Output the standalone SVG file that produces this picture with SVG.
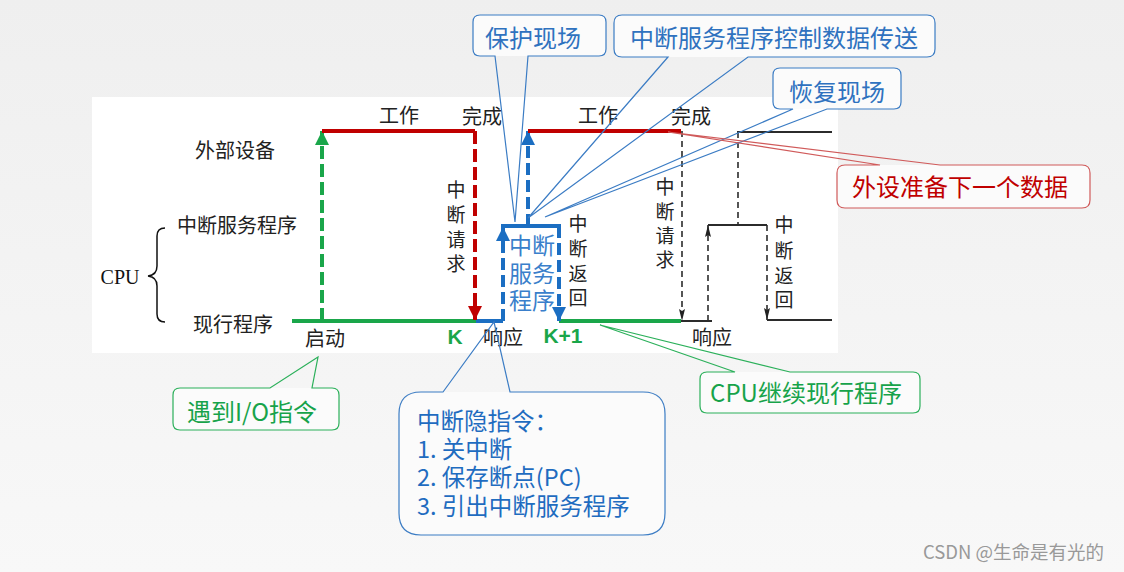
<svg xmlns="http://www.w3.org/2000/svg" width="1124" height="572" viewBox="0 0 1124 572">
<defs>
<linearGradient id="bg" x1="0" y1="0" x2="0" y2="1">
<stop offset="0" stop-color="#efefef"/><stop offset="1" stop-color="#f8f8f8"/>
</linearGradient>
<marker id="aG" markerUnits="userSpaceOnUse" markerWidth="14" markerHeight="14" refX="14" refY="7" orient="auto"><path d="M0,0 L14,7 L0,14 z" fill="#1aa64a"/></marker>
<marker id="aR" markerUnits="userSpaceOnUse" markerWidth="14" markerHeight="14" refX="14" refY="7" orient="auto"><path d="M0,0 L14,7 L0,14 z" fill="#c00000"/></marker>
<marker id="aB" markerUnits="userSpaceOnUse" markerWidth="14" markerHeight="14" refX="14" refY="7" orient="auto"><path d="M0,0 L14,7 L0,14 z" fill="#1b6ec2"/></marker>
<marker id="aK" markerUnits="userSpaceOnUse" markerWidth="12" markerHeight="6" refX="12" refY="3" orient="auto"><path d="M0,0 L12,3 L0,6 L2,3 z" fill="#222"/></marker>
</defs>
<style>
.lbl{font-family:"Noto Sans CJK SC","Noto Sans",sans-serif;font-size:20px;fill:#222}
.vl{font-family:"Noto Sans CJK SC","Noto Sans",sans-serif;font-size:19px;fill:#222;text-anchor:middle}
.ser{font-family:"Liberation Serif",serif;font-size:20px;fill:#111}
.kk{font-family:"Liberation Sans",Arial,sans-serif;font-weight:bold;font-size:21px;fill:#1aa64a}
.ct{font-family:"Noto Sans CJK SC","Noto Sans",sans-serif;font-size:24px;text-anchor:middle}
.gS{stroke:#1aa64a;stroke-width:4;fill:none}
.rS{stroke:#c00000;stroke-width:4;fill:none}
.bS{stroke:#1b6ec2;stroke-width:4;fill:none}
.kS{stroke:#2b2b2b;stroke-width:2;fill:none}
.dashG{stroke-dasharray:13 5}
.dashB{stroke-dasharray:12 5}
.dk{stroke:#2b2b2b;stroke-width:1.6;stroke-dasharray:6 4;fill:none}
.cb{stroke:#3b7cc4;stroke-width:1.2;fill:none}
.cg{stroke:#2bb05a;stroke-width:1.2;fill:none}
.cr{stroke:#d05a5a;stroke-width:1.2;fill:none}
.cf{fill:#fbfbfb;stroke:none}
</style>
<rect width="1124" height="572" fill="url(#bg)"/>
<rect x="92" y="97" width="746" height="256" fill="#ffffff"/>

<g id="connectors">
<line class="gS" x1="292" y1="321" x2="476" y2="321"/>
<line class="bS" x1="476" y1="321" x2="503" y2="321"/>
<line class="gS" x1="559" y1="321" x2="681" y2="321"/>
<line class="gS dashG" x1="322" y1="321" x2="322" y2="131" marker-end="url(#aG)"/>
<line class="rS" x1="322" y1="131" x2="475" y2="131"/>
<line class="rS dashG" x1="475" y1="131" x2="475" y2="320" marker-end="url(#aR)"/>
<line class="bS dashB" x1="503" y1="321" x2="503" y2="227" marker-end="url(#aB)"/>
<line class="bS" x1="501" y1="226" x2="561" y2="226"/>
<line class="bS dashB" x1="559" y1="226" x2="559" y2="321" marker-end="url(#aB)"/>
<line class="bS dashB" x1="528" y1="226" x2="528" y2="131" marker-end="url(#aB)"/>
<line class="rS" x1="528" y1="131" x2="681" y2="131"/>
<line class="dk" x1="682" y1="131" x2="682" y2="321" marker-end="url(#aK)"/>
<line class="kS" x1="681" y1="321" x2="712" y2="321"/>
<line class="dk" x1="708" y1="321" x2="708" y2="225" marker-end="url(#aK)"/>
<line class="kS" x1="708" y1="225" x2="767" y2="225"/>
<line class="dk" x1="767" y1="225" x2="767" y2="320" marker-end="url(#aK)"/>
<line class="kS" x1="767" y1="320" x2="832" y2="320"/>
<line class="kS" x1="737" y1="132" x2="832" y2="132"/>
<line class="dk" x1="738" y1="132" x2="738" y2="225"/>
<path d="M165,228 Q157,228 157,236 L157,266 Q157,275 148,276 Q157,277 157,286 L157,314 Q157,322 165,322" stroke="#111" stroke-width="1.5" fill="none"/>
</g>

<g id="labels">
<text class="lbl" x="399" y="123" text-anchor="middle">工作</text>
<text class="lbl" x="482" y="124" text-anchor="middle">完成</text>
<text class="lbl" x="598" y="123" text-anchor="middle">工作</text>
<text class="lbl" x="691" y="124" text-anchor="middle">完成</text>
<text class="lbl" x="235" y="158" text-anchor="middle">外部设备</text>
<text class="lbl" x="237" y="233" text-anchor="middle">中断服务程序</text>
<text class="ser" x="120" y="284" text-anchor="middle">CPU</text>
<text class="lbl" x="233" y="332" text-anchor="middle">现行程序</text>
<text class="lbl" x="325" y="346" text-anchor="middle">启动</text>
<text class="lbl" x="503" y="345" text-anchor="middle">响应</text>
<text class="lbl" x="712" y="345" text-anchor="middle">响应</text>
<text class="kk" x="455" y="344" text-anchor="middle">K</text>
<text class="kk" x="563" y="343" text-anchor="middle">K+1</text>
<text class="vl"><tspan x="456" y="197">中</tspan><tspan x="456" y="222">断</tspan><tspan x="456" y="247">请</tspan><tspan x="456" y="271">求</tspan></text>
<text class="vl"><tspan x="578" y="231">中</tspan><tspan x="578" y="256">断</tspan><tspan x="578" y="281">返</tspan><tspan x="578" y="305">回</tspan></text>
<text class="vl"><tspan x="665" y="194">中</tspan><tspan x="665" y="219">断</tspan><tspan x="665" y="243">请</tspan><tspan x="665" y="267">求</tspan></text>
<text class="vl"><tspan x="784" y="232">中</tspan><tspan x="784" y="258">断</tspan><tspan x="784" y="283">返</tspan><tspan x="784" y="307">回</tspan></text>
</g>

<g id="isr-label">
<text font-family="'Noto Sans CJK SC','Noto Sans',sans-serif" font-size="23" fill="#3a7fcb" text-anchor="middle"><tspan x="532" y="254">中断</tspan><tspan x="532" y="282">服务</tspan><tspan x="532" y="309">程序</tspan></text>
</g>

<g id="callout-protect">
<rect class="cf" x="473" y="15" width="133" height="41" rx="7"/>
<path class="cb" d="M480,15 H599 Q606,15 606,22 V49 Q606,56 599,56 H528 L515,222 L495,56 H480 Q473,56 473,49 V22 Q473,15 480,15 Z"/>
<text class="ct" x="533" y="47" fill="#2f72bf">保护现场</text>
</g>

<g id="callout-transfer">
<rect class="cf" x="614" y="15" width="321" height="42" rx="8"/>
<path class="cb" d="M622,15 H927 Q935,15 935,23 V49 Q935,57 927,57 H748 L528,218 L668,57 H622 Q614,57 614,49 V23 Q614,15 622,15 Z"/>
<text class="ct" x="774" y="47" fill="#2f72bf">中断服务程序控制数据传送</text>
</g>

<g id="callout-restore">
<rect class="cf" x="773" y="68" width="128" height="41" rx="7"/>
<path class="cb" d="M780,68 H894 Q901,68 901,75 V102 Q901,109 894,109 H827 L545,217 L793,109 H780 Q773,109 773,102 V75 Q773,68 780,68 Z"/>
<text class="ct" x="837" y="101" fill="#2f72bf">恢复现场</text>
</g>

<g id="callout-next">
<rect class="cf" x="837" y="165" width="253" height="43" rx="8"/>
<path class="cr" d="M845,165 H880 L668,132 L940,165 H1082 Q1090,165 1090,173 V200 Q1090,208 1082,208 H845 Q837,208 837,200 V173 Q837,165 845,165 Z"/>
<text class="ct" x="960" y="196" fill="#c00000">外设准备下一个数据</text>
</g>

<g id="callout-io">
<rect class="cf" x="173" y="388" width="166" height="42" rx="7"/>
<path class="cg" d="M180,388 H270 L318,357 L312,388 H332 Q339,388 339,395 V423 Q339,430 332,430 H180 Q173,430 173,423 V395 Q173,388 180,388 Z"/>
<text class="ct" x="252" y="421" fill="#17a34a">遇到I/O指令</text>
</g>

<g id="callout-hidden">
<rect class="cf" x="399" y="392" width="266" height="143" rx="22"/>
<path class="cb" d="M421,392 H443 L494,322 L510,392 H643 Q665,392 665,414 V513 Q665,535 643,535 H421 Q399,535 399,513 V414 Q399,392 421,392 Z"/>
<text font-family="'Noto Sans CJK SC','Noto Sans',sans-serif" font-size="23.5" fill="#1f6cc0"><tspan x="417" y="430">中断隐指令：</tspan><tspan x="417" y="458">1. 关中断</tspan><tspan x="417" y="486">2. 保存断点(PC)</tspan><tspan x="417" y="515">3. 引出中断服务程序</tspan></text>
</g>

<g id="callout-continue">
<rect class="cf" x="700" y="372" width="220" height="41" rx="7"/>
<path class="cg" d="M707,372 H735 L600,325 L790,372 H913 Q920,372 920,379 V406 Q920,413 913,413 H707 Q700,413 700,406 V379 Q700,372 707,372 Z"/>
<text class="ct" x="806" y="402" fill="#17a34a">CPU继续现行程序</text>
</g>

<text x="1104" y="559" text-anchor="end" font-family="'Noto Sans CJK SC','Noto Sans',sans-serif" font-size="18.5" fill="#999999">CSDN @生命是有光的</text>
</svg>
